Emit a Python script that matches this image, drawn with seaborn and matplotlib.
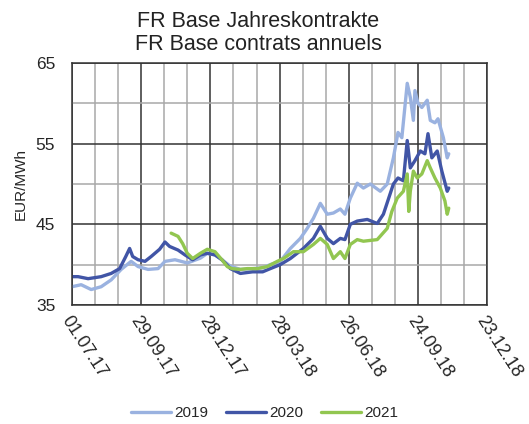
import pandas as pd
import matplotlib.pyplot as plt
import seaborn as sns

## start date of the x axis, the series are given as days after it
start = pd.Timestamp('2017-07-01')

## 2019 contract
days_2019 = [0, 12, 25, 38, 51, 64, 77, 86, 99, 112, 121, 134, 150, 167, 176, 186, 195, 206,
             219, 235, 248, 258, 271, 284, 297, 306, 314, 323, 332, 340, 349, 355, 362, 371,
             379, 388, 401, 410, 418, 424, 429, 436, 440, 444, 446, 450, 455, 462, 466, 472,
             476, 483, 488, 490]
eur_2019 = [37.25, 37.5, 36.9, 37.25, 38.1, 39.4, 40.4, 39.75, 39.4, 39.5, 40.4, 40.6, 40.2,
            40.8, 41.4, 41.2, 40.6, 39.8, 39.4, 39.5, 39.6, 40.0, 40.4, 42.0, 43.25, 44.5,
            45.75, 47.6, 46.25, 46.4, 46.9, 46.25, 48.25, 50.1, 49.5, 50.0, 49.1, 50.0, 53.25,
            56.4, 55.75, 62.5, 60.75, 57.9, 61.6, 60.0, 59.5, 60.4, 57.9, 57.6, 58.1, 55.75,
            53.25, 53.75]

## 2020 contract
days_2020 = [0, 8, 21, 38, 51, 62, 70, 75, 79, 86, 95, 103, 114, 121, 127, 138, 147, 157, 167,
             176, 186, 195, 206, 219, 235, 248, 258, 271, 284, 301, 314, 323, 332, 340, 349,
             355, 362, 371, 384, 397, 405, 418, 424, 431, 436, 440, 446, 453, 459, 463, 468,
             475, 481, 488, 490]
eur_2020 = [38.5, 38.5, 38.25, 38.5, 38.9, 39.5, 41.0, 42.0, 41.0, 40.6, 40.4, 41.0, 41.9,
            42.8, 42.25, 41.8, 41.2, 40.6, 41.2, 41.4, 41.2, 40.6, 39.5, 38.9, 39.1, 39.1,
            39.5, 40.0, 40.75, 42.0, 43.25, 44.75, 43.25, 42.6, 43.25, 43.1, 45.0, 45.4, 45.6,
            45.1, 46.25, 50.0, 50.75, 50.4, 55.4, 52.0, 52.9, 54.1, 53.75, 56.25, 53.25, 54.1,
            51.6, 49.1, 49.5]

## 2021 contract (starts later)
days_2021 = [129, 138, 144, 150, 157, 167, 176, 186, 195, 202, 208, 219, 228, 241, 254, 267,
             275, 288, 301, 314, 323, 332, 340, 349, 355, 362, 371, 379, 388, 397, 410, 416,
             423, 431, 436, 438, 440, 444, 449, 455, 462, 466, 472, 479, 485, 488, 490]
eur_2021 = [43.9, 43.5, 42.6, 41.4, 40.75, 41.4, 41.9, 41.6, 40.6, 39.75, 39.5, 39.4, 39.5,
            39.5, 39.75, 40.4, 40.75, 41.6, 41.6, 42.5, 43.25, 42.5, 40.75, 41.6, 40.75, 42.5,
            43.1, 42.9, 43.0, 43.1, 44.5, 46.6, 48.25, 49.1, 51.25, 46.6, 49.1, 51.6, 50.75,
            51.25, 52.9, 52.0, 50.75, 49.5, 47.9, 46.25, 47.0]

tick_labels = ['01.07.17', '29.09.17', '28.12.17', '28.03.18', '26.06.18', '24.09.18', '23.12.18']
colors = {'2019': '#9ab2e0', '2020': '#4155a6', '2021': '#92c650'}

## build a long table for seaborn
frames = []
for year, d, v in [('2019', days_2019, eur_2019), ('2020', days_2020, eur_2020), ('2021', days_2021, eur_2021)]:
    frames.append(pd.DataFrame({'date': start + pd.to_timedelta(d, unit='D'), 'eur': v, 'year': year}))
df = pd.concat(frames, ignore_index=True)

sns.set_style('white')
plt.rcParams['font.family'] = ['Liberation Sans', 'DejaVu Sans']

fig = plt.figure(figsize=(5.29, 4.24), dpi=100)
ax = fig.add_axes([0.136, 0.281, 0.785, 0.57])

sns.lineplot(data=df, x='date', y='eur', hue='year', palette=colors, linewidth=2.4, ax=ax,
             legend=False, estimator=None)

## axes limits and grid
ax.set_xlim(start, start + pd.Timedelta(days=540))
ax.set_ylim(35, 65)
major_x = [start + pd.Timedelta(days=90 * i) for i in range(7)]
minor_x = [start + pd.Timedelta(days=30 * i) for i in range(19) if i % 3 != 0]
ax.set_xticks(major_x)
ax.set_xticklabels(tick_labels, rotation=-57, ha='left', va='top', rotation_mode='anchor', fontsize=13)
ax.set_xticks(minor_x, minor=True)
ax.set_yticks([35, 45, 55, 65])
ax.set_yticks([40, 50, 60], minor=True)
ax.tick_params(axis='y', labelsize=12.5, length=0, pad=12)
ax.tick_params(axis='x', which='both', length=0, pad=6)
ax.grid(True, which='major', color='#333333', linewidth=1.1)
ax.grid(True, which='minor', color='#a8a8a8', linewidth=1.1)
ax.set_axisbelow(True)
for s in ax.spines.values():
    s.set_color('#333333')
    s.set_linewidth(1.1)

ax.set_xlabel('')
ax.set_ylabel('EUR/MWh', fontsize=11, labelpad=6)

## title
fig.text(0.488, 0.975, 'FR Base Jahreskontrakte\nFR Base contrats annuels', ha='center', va='top',
         fontsize=15.5, color='#222222', linespacing=1.15)

## legend
handles = [plt.Line2D([], [], color=colors[y], linewidth=2.4) for y in ['2019', '2020', '2021']]
fig.legend(handles, ['2019', '2020', '2021'], loc='center', bbox_to_anchor=(0.5, 0.026), ncol=3,
           frameon=False, fontsize=11, handlelength=2.6, handletextpad=0.2, columnspacing=1.2,
           borderpad=0.1)

fig.savefig('out.png', dpi=100)
